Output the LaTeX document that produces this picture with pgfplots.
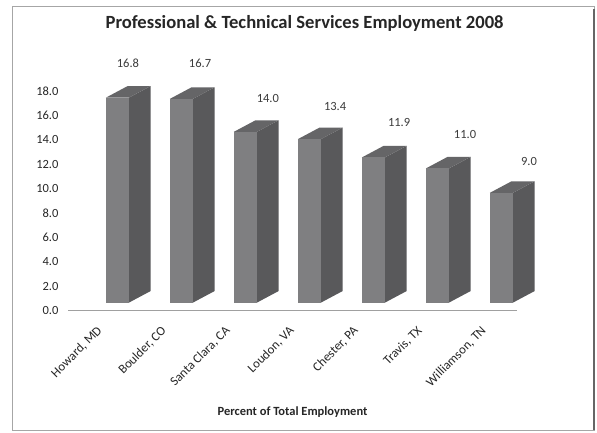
\documentclass[border=0pt]{standalone}
\usepackage{fontspec}
\setmainfont{Carlito}
\usepackage{pgfplots}
\pgfplotsset{compat=1.18}
\definecolor{front}{HTML}{7F7F81}
\definecolor{side}{HTML}{59595B}
\definecolor{topc}{HTML}{656567}
\definecolor{axisgray}{HTML}{A0A0A0}
\definecolor{txt}{HTML}{262626}
\begin{document}
\begin{tikzpicture}[x=1pt,y=1pt]
\path[use as bounding box, fill=white] (0,0) rectangle (597,432);
\draw[color=black!35, line width=1pt] (12,2) rectangle (594,425);
\draw[color=black!60, line width=2pt] (594,2) -- (594,423);
\begin{axis}[
  at={(68pt,121.5pt)}, anchor=south west,
  scale only axis, width=449pt, height=219.6pt,
  xmin=-0.773, xmax=6.242, ymin=0, ymax=18,
  clip=false,
  axis x line*=bottom, axis y line*=left,
  y axis line style={draw=none},
  x axis line style={draw=axisgray, line width=1pt},
  major tick length=0pt,
  ytick={0,2,...,18},
  /pgf/number format/.cd, fixed, fixed zerofill, precision=1, assume math mode=true,
  /pgfplots/.cd,
  yticklabel style={font=\fontsize{12.5}{14}\selectfont, text=txt, xshift=-6pt},
  xtick={0,1,2,3,4,5,6},
  xticklabels={{Howard, MD},{Boulder, CO},{Santa Clara, CA},{Loudon, VA},{Chester, PA},{Travis, TX},{Williamson, TN}},
  xticklabel style={anchor=east, xshift=-15pt, yshift=-16pt, rotate=45, font=\fontsize{12.8}{14}\selectfont, text=txt},
  title={Professional \& Technical Services Employment 2008},
  title style={at={(axis description cs:0.527,1.282)}, anchor=center, font=\fontsize{18.6}{20}\selectfont\bfseries, text=txt},
  xlabel={Percent of Total Employment},
  xlabel style={at={(axis description cs:0.5,-0.462)}, anchor=center, font=\fontsize{12.5}{14}\selectfont\bfseries, text=txt},
]
\pgfplotsforeachungrouped \i/\v in {0/16.8,1/16.7,2/14.0,3/13.4,4/11.9,5/11.0,6/9.0} {
  \pgfmathsetmacro\xa{\i-0.18}
  \pgfmathsetmacro\xb{\i+0.18}
  \pgfmathsetmacro\xc{\i+0.18+0.336}
  \pgfmathsetmacro\xd{\i-0.18+0.336}
  \pgfmathsetmacro\yb{0.65}
  \pgfmathsetmacro\ybb{0.65+0.94}
  \pgfmathsetmacro\yt{0.65+\v}
  \pgfmathsetmacro\ytt{0.65+\v+0.94}
  \edef\tmp{%
    \noexpand\addplot[fill=side, draw=none, forget plot] coordinates {(\xb,\yb) (\xc,\ybb) (\xc,\ytt) (\xb,\yt)};
    \noexpand\addplot[fill=topc, draw=none, forget plot] coordinates {(\xa,\yt) (\xb,\yt) (\xc,\ytt) (\xd,\ytt)};
    \noexpand\addplot[fill=front, draw=none, forget plot] coordinates {(\xa,\yb) (\xb,\yb) (\xb,\yt) (\xa,\yt)};
  }\tmp
}
\addplot[draw=none, mark=none, nodes near coords, point meta=explicit symbolic,
  every node near coord/.style={anchor=center, font=\fontsize{12.5}{14}\selectfont, text=txt!90}]
  table[meta=label] {
x y label
0.164 20.3 16.8
1.29 20.3 16.7
2.35 17.4 14.0
3.40 16.7 13.4
4.40 15.4 11.9
5.43 14.4 11.0
6.43 12.2 9.0
};
\end{axis}
\end{tikzpicture}
\end{document}
